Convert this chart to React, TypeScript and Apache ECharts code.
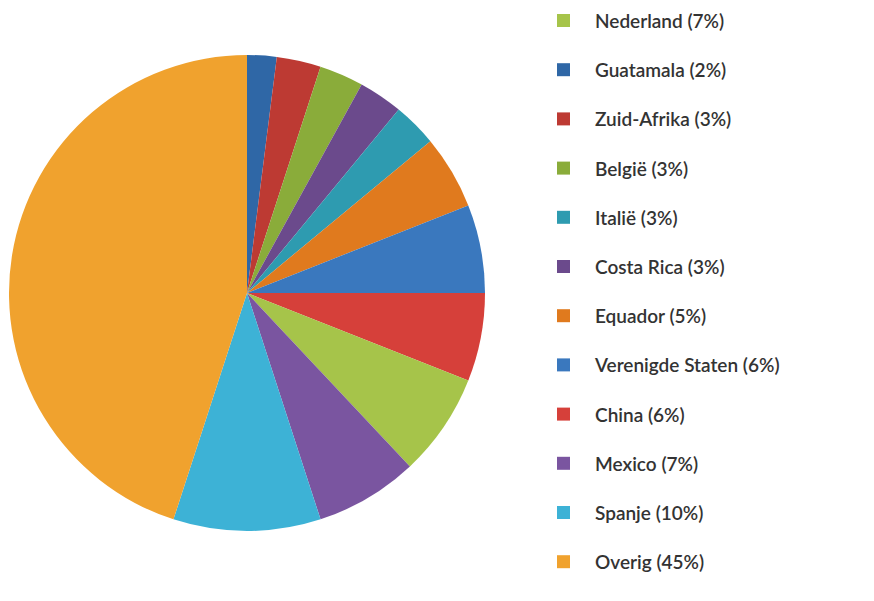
import React, { useEffect, useRef } from "react";
import * as echarts from "echarts";

// Pie slices in drawing order (clockwise from 12 o'clock)
const countries = [
  "Guatamala",
  "Zuid-Afrika",
  "België",
  "Costa Rica",
  "Italië",
  "Equador",
  "Verenigde Staten",
  "China",
  "Nederland",
  "Mexico",
  "Spanje",
  "Overig",
];
const shares = [2, 3, 3, 3, 3, 5, 6, 6, 7, 7, 10, 45];
const sliceColors = [
  "#2f67a6",
  "#bd3a33",
  "#8aac3a",
  "#6b4a8c",
  "#2e9bb0",
  "#e07a1e",
  "#3a78be",
  "#d6403a",
  "#a6c44a",
  "#7a55a0",
  "#3db2d6",
  "#f0a22e",
];
// Legend order as in the reference
const legendOrder = [
  "Nederland",
  "Guatamala",
  "Zuid-Afrika",
  "België",
  "Italië",
  "Costa Rica",
  "Equador",
  "Verenigde Staten",
  "China",
  "Mexico",
  "Spanje",
  "Overig",
];

export default function App() {
  const ref = useRef<HTMLDivElement>(null);
  useEffect(() => {
    if (!ref.current) return;
    const chart = echarts.init(ref.current, null, { renderer: "svg" });
    const data = countries.map((name, i) => ({
      name,
      value: shares[i],
      itemStyle: { color: sliceColors[i] },
    }));
    chart.setOption({
      animation: false,
      backgroundColor: "#ffffff",
      legend: {
        orient: "vertical",
        left: 544,
        top: -2,
        height: 600,
        itemWidth: 13,
        itemHeight: 13,
        itemGap: 30.2,
        icon: "rect",
        data: legendOrder,
        selectedMode: false,
        formatter: (name: string) => {
          const idx = countries.indexOf(name);
          return `${name} (${shares[idx]}%)`;
        },
        textStyle: {
          fontFamily: "Lato",
          fontSize: 19,
          fontWeight: 600,
          color: "#333333",
          lineHeight: 16,
          padding: [0, 0, 0, 20],
        },
      },
      series: [
        {
          type: "pie",
          center: [239, 285],
          radius: 238,
          startAngle: 90,
          clockwise: true,
          label: { show: false },
          labelLine: { show: false },
          itemStyle: { borderWidth: 0 },
          emphasis: { disabled: true },
          data,
        },
      ],
    });
    return () => chart.dispose();
  }, []);
  return <div ref={ref} style={{ width: 858, height: 585 }} />;
}
